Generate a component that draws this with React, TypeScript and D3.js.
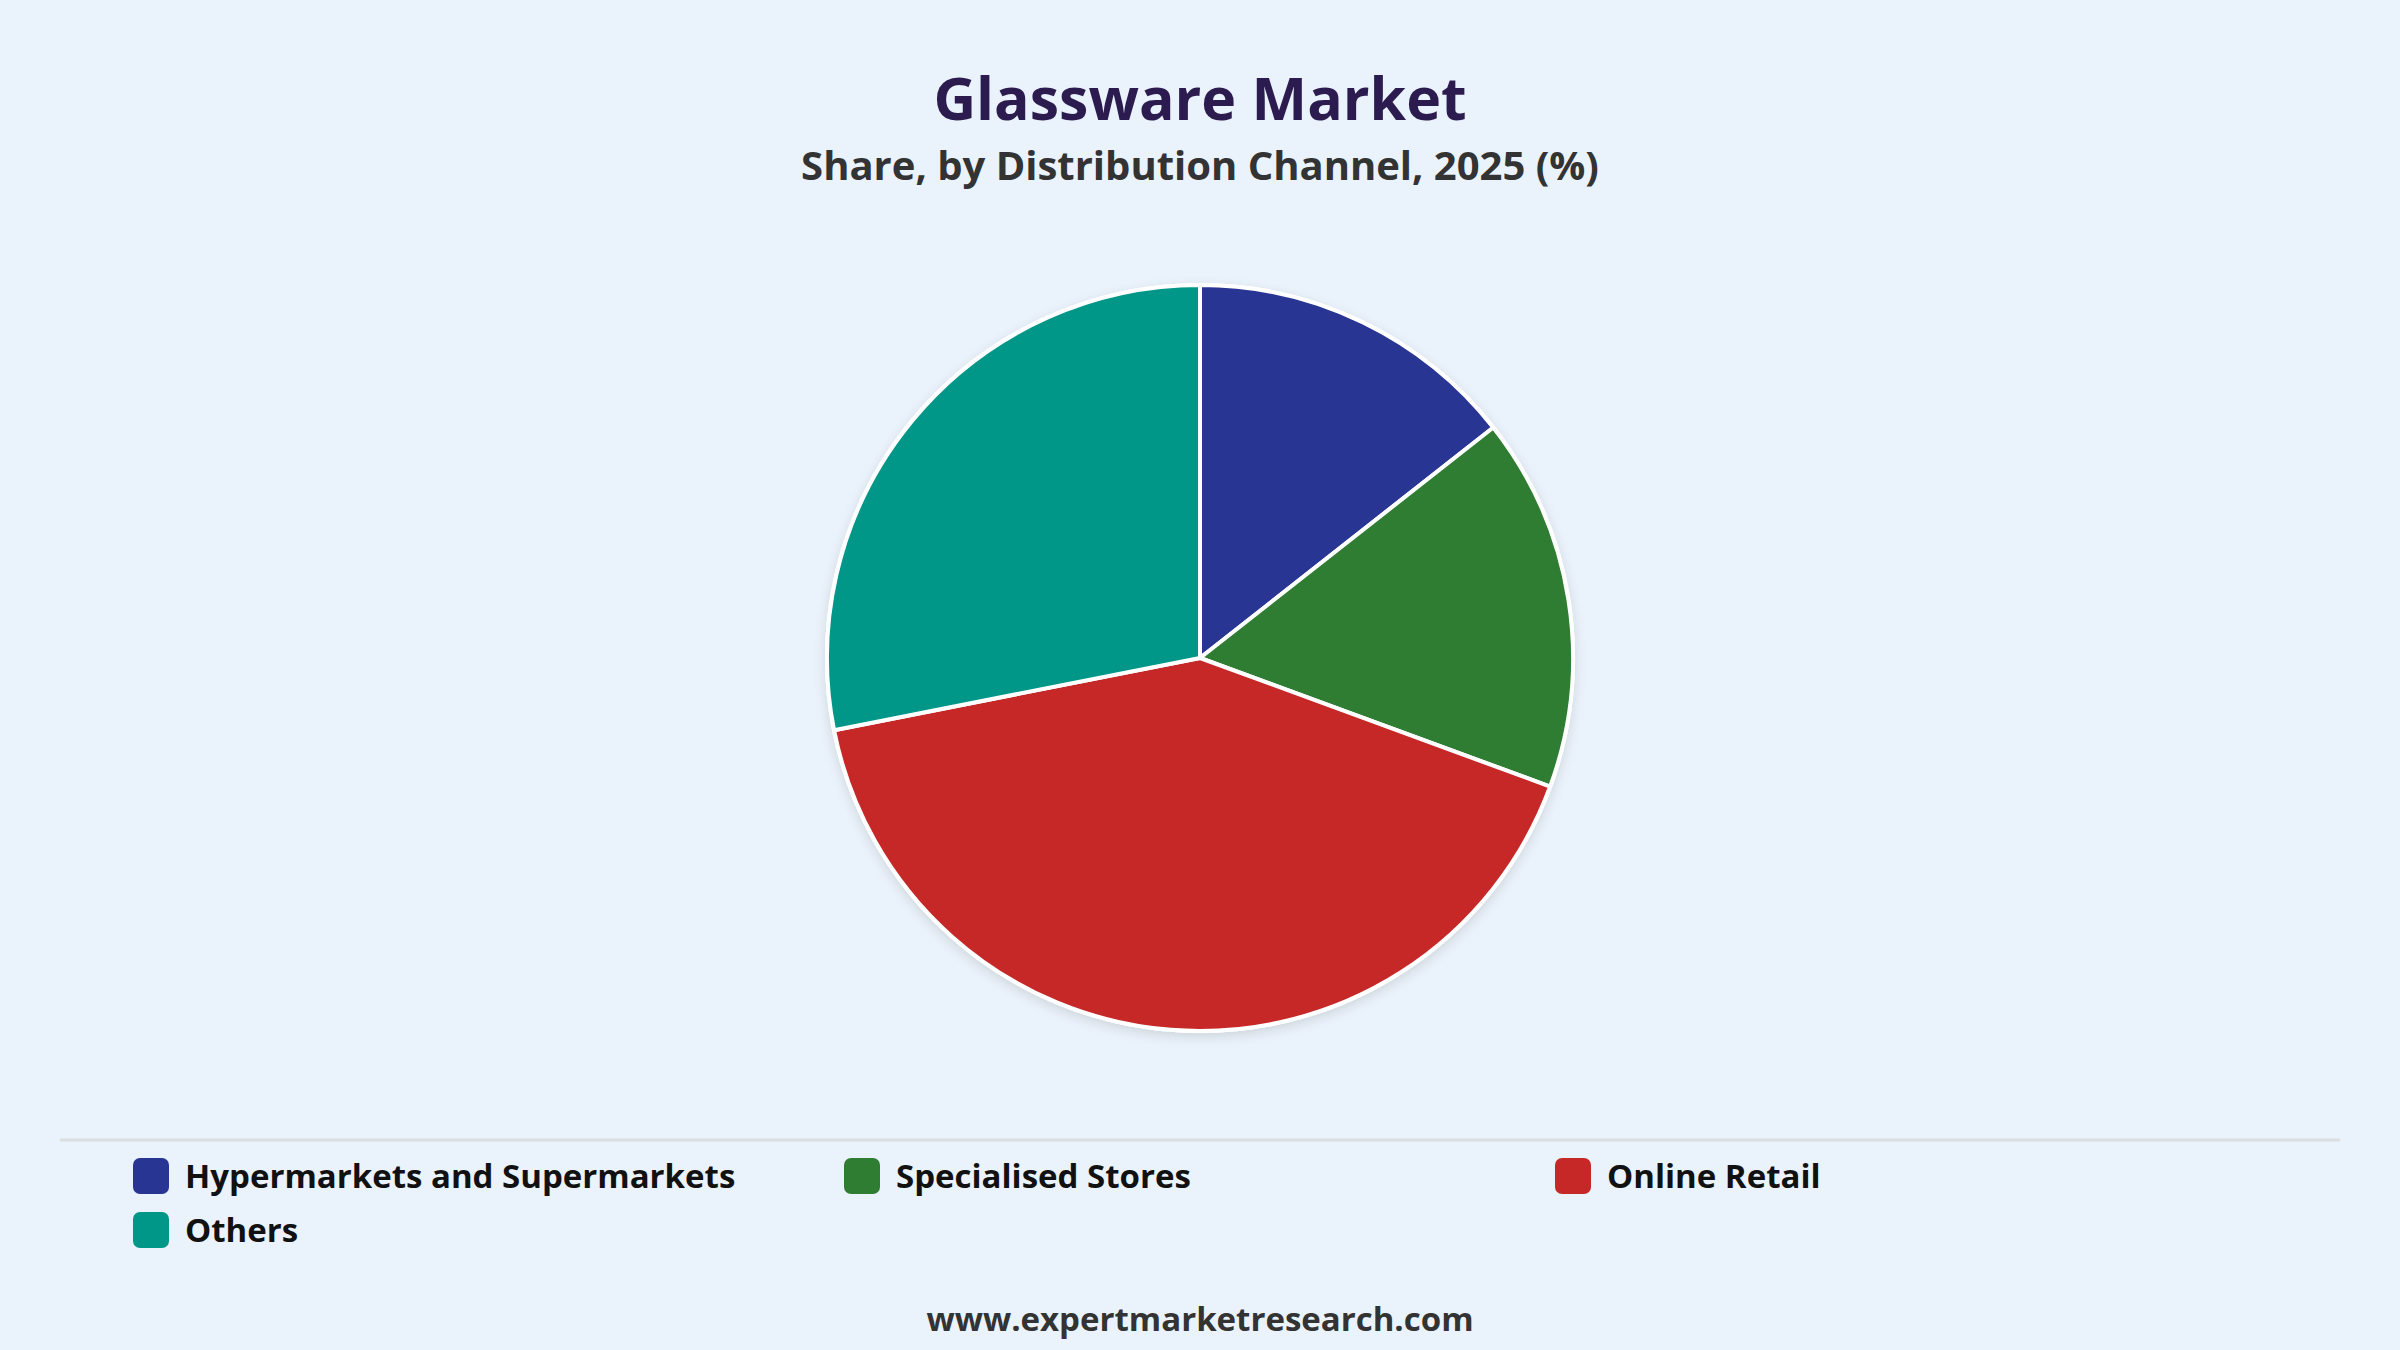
import React from "react";
import * as d3 from "d3";

const categories = ["Hypermarkets and Supermarkets", "Specialised Stores", "Online Retail", "Others"];
const shares = [14.4, 16.2, 41.3, 28.1];
const colors = ["#283593", "#2E7D32", "#C62828", "#009688"];

const W = 2400;
const H = 1350;
const FONT = "'Segoe UI', 'Open Sans', 'Noto Sans', sans-serif";

export default function App() {
  const cx = 1200;
  const cy = 658;
  const r = 373;
  const pie = d3.pie<number>().sort(null).value((d) => d)(shares);
  const arc = d3.arc<d3.PieArcDatum<number>>().innerRadius(0).outerRadius(r);

  const legendX0 = 133;
  const legendColW = 711;
  const legendY0 = 1158;
  const legendRowH = 54;

  return (
    <div>
      <style>{`html,body{margin:0;padding:0;background:#EAF2FB;overflow:hidden}`}</style>
      <svg width={W} height={H} viewBox={`0 0 ${W} ${H}`} style={{ display: "block", background: "#EAF2FB" }}>
        <defs>
          <filter id="shadow" x="-20%" y="-20%" width="140%" height="140%">
            <feDropShadow dx="0" dy="4" stdDeviation="6" floodColor="#000" floodOpacity="0.12" />
          </filter>
        </defs>
        <rect width={W} height={H} fill="#EAF2FB" />
        <text x={W / 2} y={120} textAnchor="middle" fontFamily={FONT} fontWeight={700} fontSize={59} fill="#2B1B4F">
          Glassware Market
        </text>
        <text x={W / 2} y={180} textAnchor="middle" fontFamily={FONT} fontWeight={700} fontSize={40} fill="#333333">
          Share, by Distribution Channel, 2025 (%)
        </text>
        <g transform={`translate(${cx},${cy})`}>
          <circle r={r + 2} fill="#ffffff" filter="url(#shadow)" />
          {pie.map((d, i) => (
            <path key={i} d={arc(d) || ""} fill={colors[i]} stroke="#ffffff" strokeWidth={4} strokeLinejoin="round" />
          ))}
        </g>
        <line x1={60} x2={2340} y1={1140} y2={1140} stroke="#DADDE2" strokeWidth={3} />
        {categories.map((c, i) => {
          const col = i % 3;
          const row = Math.floor(i / 3);
          const x = legendX0 + col * legendColW;
          const y = legendY0 + row * legendRowH;
          return (
            <g key={c}>
              <rect x={x} y={y} width={36} height={36} rx={7} fill={colors[i]} />
              <text x={x + 52} y={y + 30} fontFamily={FONT} fontWeight={700} fontSize={33} fill="#111111">
                {c}
              </text>
            </g>
          );
        })}
        <text x={W / 2} y={1331} textAnchor="middle" fontFamily={FONT} fontWeight={700} fontSize={33} fill="#333333">
          www.expertmarketresearch.com
        </text>
      </svg>
    </div>
  );
}
